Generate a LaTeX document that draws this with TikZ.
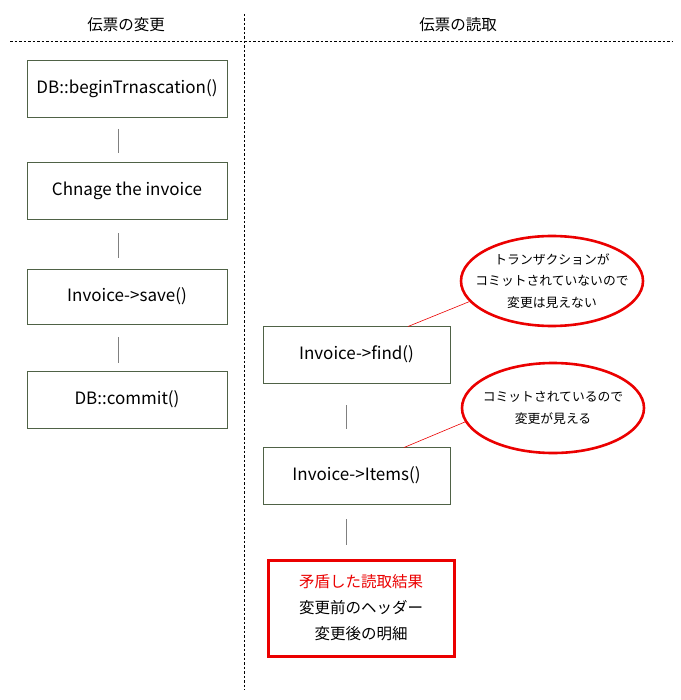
\documentclass[tikz,border=0pt]{standalone}
\usepackage{fontspec}
\setmainfont{Noto Sans CJK JP}
\usetikzlibrary{shapes.geometric}
\definecolor{boxline}{RGB}{79,98,70}
\definecolor{conn}{RGB}{128,128,128}
\definecolor{redc}{RGB}{235,0,0}
\begin{document}
\begin{tikzpicture}[x=1pt,y=-1pt,
  stepbox/.style={draw=boxline,line width=0.9pt,minimum width=200pt,minimum height=57pt,inner sep=0pt,font=\fontsize{17}{20}\selectfont},
  readbox/.style={stepbox,minimum width=187pt},
  conline/.style={draw=conn,line width=0.8pt},
  bubble/.style={ellipse,draw=redc,line width=2.6pt,minimum width=182pt,minimum height=90pt,inner sep=0pt},
  bubbletext/.style={align=center,inner sep=0pt,font=\fontsize{12.8}{21.5}\selectfont},
  callout/.style={draw=redc,line width=0.6pt},
  sep/.style={dash pattern=on 2.5pt off 2pt,line width=0.8pt},
  head/.style={font=\fontsize{15.5}{17}\selectfont}]
\useasboundingbox (0,0) rectangle (680,700);
\fill[white] (0,0) rectangle (680,700);
% separators
\coordinate (hl) at (10,41);
\coordinate (hr) at (672,41);
\coordinate (vt) at (244,14);
\coordinate (vb) at (244,690);
\draw[sep] (hl) -- (hr);
\draw[sep] (vt) -- (vb);
\node[head] (h1) at (126,25) {伝票の変更};
\node[head] (h2) at (458,25) {伝票の読取};
% left column
\node[stepbox] (b1) at (127,89) {DB::beginTrnascation()};
\node[stepbox] (b2) at (127,190.5) {Chnage the invoice};
\node[stepbox,minimum height=55pt] (b3) at (127,296.5) {Invoice->save()};
\node[stepbox] (b4) at (127,399.5) {DB::commit()};
\draw[conline,shorten <=11pt,shorten >=9pt] ([xshift=-9pt]b1.south) -- ([xshift=-9pt]b2.north);
\draw[conline,shorten <=14pt,shorten >=11pt] ([xshift=-9pt]b2.south) -- ([xshift=-9pt]b3.north);
\draw[conline,shorten <=13pt,shorten >=8pt] ([xshift=-9pt]b3.south) -- ([xshift=-9pt]b4.north);
% right column
\node[readbox] (f) at (356.5,354.5) {Invoice->find()};
\node[readbox] (it) at (356.5,475.5) {Invoice->Items()};
\node[draw=redc,line width=3pt,minimum width=186pt,minimum height=96pt,inner sep=0pt,align=center,font=\fontsize{15.5}{26}\selectfont] (res) at (361,608)
  {\textcolor{redc}{矛盾した読取結果}\\変更前のヘッダー\\変更後の明細};
\draw[conline,shorten <=22pt,shorten >=18pt] ([xshift=-10.5pt]f.south) -- ([xshift=-10.5pt]it.north);
\draw[conline,shorten <=15pt,shorten >=14pt] ([xshift=-10.5pt]it.south) -- ([xshift=-15pt]res.north);
% bubbles
\node[bubble] (e1) at (552,281) {};
\node[bubbletext] (t1) at (e1.center) {トランザクションが\\コミットされていないので\\変更は見えない};
\node[bubble] (e2) at (553,408) {};
\node[bubbletext] (t2) at (e2.center) {コミットされているので\\変更が見える};
\coordinate (c1) at (408,326.5);
\coordinate (c2) at (404,447.5);
\draw[callout] (c1) -- (e1.194);
\draw[callout] (c2) -- (e2.189);
\end{tikzpicture}
\end{document}
